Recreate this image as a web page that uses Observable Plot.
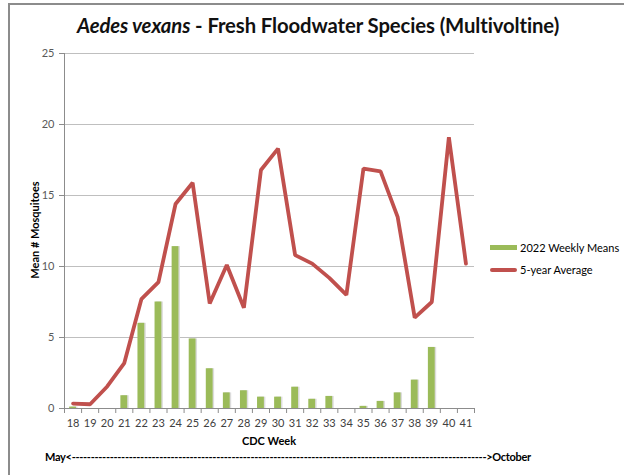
<!DOCTYPE html>
<html>
<head>
<meta charset="utf-8">
<script src="https://cdn.jsdelivr.net/npm/d3@7"></script>
<script src="https://cdn.jsdelivr.net/npm/@observablehq/plot@0.6"></script>
<style>
  html, body { margin: 0; padding: 0; background: #fff; }
  #wrap { position: relative; width: 624px; height: 475px; overflow: hidden; font-family: Lato, "Open Sans", sans-serif; }
  #frame { position: absolute; left: 8px; top: 3px; width: 640px; height: 500px; border-left: 2px solid #8c8c8c; border-top: 2px solid #8c8c8c; box-sizing: border-box; }
  #title { position: absolute; left: 0; width: 636px; top: 13px; text-align: center; font-size: 20.3px; font-weight: bold; color: #111; letter-spacing: -0.1px; }
  #ylabel { position: absolute; left: 34px; top: 230px; transform: translate(-50%, -50%) rotate(-90deg); font-size: 11px; font-weight: bold; white-space: nowrap; color: #000; }
  #xlabel { position: absolute; left: 269px; top: 434px; transform: translateX(-50%); font-size: 11px; font-weight: bold; color: #000; }
  #months { position: absolute; left: 45px; top: 450px; font-size: 11px; font-weight: bold; color: #000; white-space: nowrap; letter-spacing: -0.3px; }
  .leg { position: absolute; left: 490px; font-size: 11px; color: #000; display: flex; align-items: center; white-space: nowrap; }
  .sw { width: 27px; height: 5px; margin-right: 3px; }
  #plot { position: absolute; left: 0; top: 0; }
</style>
</head>
<body>
<div id="wrap">
  <div id="plot"></div>
  <div id="frame"></div>
  <div id="title"><i>Aedes vexans</i> - Fresh Floodwater Species (Multivoltine)</div>
  <div id="ylabel">Mean # Mosquitoes</div>
  <div id="xlabel">CDC Week</div>
  <div id="months"></div>
  <div class="leg" style="top:241px"><div class="sw" style="background:#9bbb59;height:5px"></div>2022 Weekly Means</div>
  <div class="leg" style="top:263px"><div class="sw" style="background:#c0504d;height:4px;border-radius:2px"></div>5-year Average</div>
</div>
<script>
const weeks = [18,19,20,21,22,23,24,25,26,27,28,29,30,31,32,33,34,35,36,37,38,39,40,41];
const weekly2022 = [0.1,0,0,0.9,6.0,7.5,11.4,4.9,2.8,1.1,1.25,0.8,0.8,1.5,0.65,0.85,0,0.15,0.5,1.1,2.0,4.3,0,0];
const avg5yr = [0.35,0.3,1.55,3.2,7.7,8.9,14.4,15.9,7.4,10.1,7.1,16.8,18.3,10.8,10.2,9.2,8.0,16.9,16.7,13.5,6.4,7.5,19.1,10.2];
const yTicks = [0,5,10,15,20,25];
const seriesNames = ["2022 Weekly Means", "5-year Average"];

const barData = weeks.map((w, i) => ({week: w, value: weekly2022[i]})).filter(d => d.value > 0);
const lineData = weeks.map((w, i) => ({week: w, value: avg5yr[i]}));
const boundaries = [weeks[0] - 0.5, ...weeks.map(w => w + 0.5)];

document.getElementById("months").textContent = "May<" + "-".repeat(109) + ">October";

const chart = Plot.plot({
  width: 624,
  height: 475,
  marginLeft: 64,
  marginRight: 150,
  marginTop: 53,
  marginBottom: 67,
  style: {fontFamily: "Lato, 'Open Sans', sans-serif", fontSize: "11px", color: "#595959", background: "transparent"},
  x: {type: "linear", domain: [weeks[0] - 0.5, weeks[weeks.length - 1] + 0.5]},
  y: {domain: [0, 25]},
  marks: [
    Plot.gridY(yTicks, {stroke: "#bfbfbf", strokeOpacity: 1}),
    Plot.axisY({ticks: yTicks, tickSize: 5, tickPadding: 5, label: null, stroke: "#8c8c8c", fill: "#595959", fontSize: 11}),
    Plot.axisX({ticks: weeks, tickSize: 0, tickPadding: 11, label: null, fill: "#404040", fontSize: 11, tickFormat: d => String(d)}),
    Plot.axisX({ticks: boundaries, tickSize: 5, label: null, tickFormat: () => "", stroke: "#8c8c8c"}),
    Plot.ruleX([weeks[0] - 0.5], {stroke: "#8c8c8c"}),
    Plot.ruleY([0], {stroke: "#8c8c8c"}),
    Plot.rectY(barData, {x1: d => d.week - 0.2, x2: d => d.week + 0.2, y: "value", fill: "#dcdcdc", dx: 1.5, dy: 0}),
    Plot.rectY(barData, {x1: d => d.week - 0.2, x2: d => d.week + 0.2, y: "value", fill: "#9bbb59"}),
    Plot.lineY(lineData, {x: "week", y: "value", stroke: "#c0504d", strokeWidth: 3.8, strokeLinejoin: "miter", curve: "linear"})
  ]
});
document.getElementById("plot").appendChild(chart);
</script>
</body>
</html>
